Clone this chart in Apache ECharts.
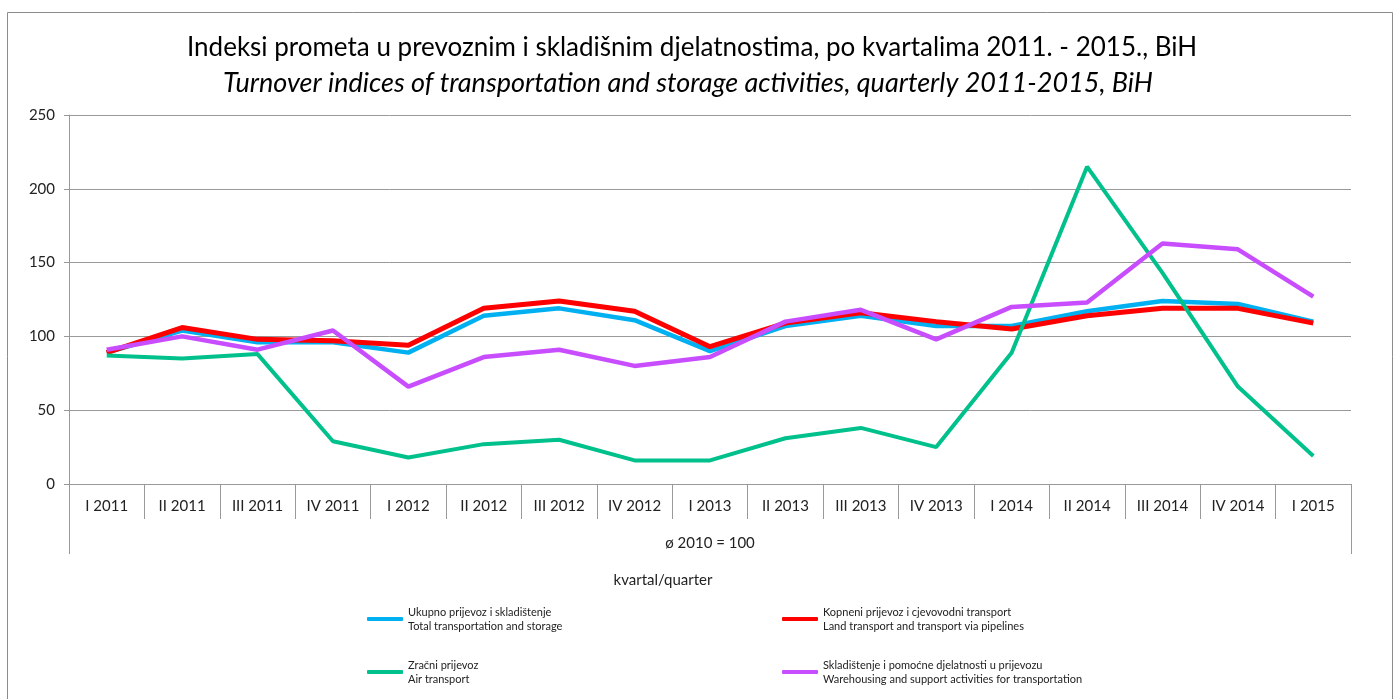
<!DOCTYPE html>
<html>
<head>
<meta charset="utf-8">
<script src="https://cdn.jsdelivr.net/npm/echarts@6/dist/echarts.min.js"></script>
<style>
  html, body { margin: 0; padding: 0; background: #fff; }
  #chart { width: 1400px; height: 699px; }
</style>
</head>
<body>
<div id="chart"></div>
<script>
var quarters = ["I 2011", "II 2011", "III 2011", "IV 2011", "I 2012", "II 2012", "III 2012", "IV 2012",
  "I 2013", "II 2013", "III 2013", "IV 2013", "I 2014", "II 2014", "III 2014", "IV 2014", "I 2015"];

// indeksi, ø 2010 = 100
var ukupno = [89, 104, 96, 96, 89, 114, 119, 111, 90, 107, 114, 107, 107, 117, 124, 122, 110];
var kopneni = [89, 106, 98, 97, 94, 119, 124, 117, 93, 109, 116, 110, 105, 114, 119, 119, 109];
var zracni = [87, 85, 88, 29, 18, 27, 30, 16, 16, 31, 38, 25, 89, 215, 143, 66, 19];
var skladistenje = [91, 100, 91, 104, 66, 86, 91, 80, 86, 110, 118, 98, 120, 123, 163, 159, 127];

var names = {
  "Ukupno prijevoz i skladištenje": "Total transportation and storage",
  "Kopneni prijevoz i cjevovodni transport": "Land transport and transport via pipelines",
  "Zračni prijevoz": "Air transport",
  "Skladištenje i pomoćne djelatnosti u prijevozu": "Warehousing and support activities for transportation"
};

var font = "Lato";
var myChart = echarts.init(document.getElementById("chart"));

function legendAt(name, left, top) {
  return {
    data: [name],
    left: left,
    top: top,
    orient: "horizontal",
    icon: "roundRect",
    itemWidth: 36,
    itemHeight: 4,
    selectedMode: false,
    formatter: function (n) { return n + "\n" + names[n]; },
    textStyle: { fontFamily: font, fontSize: 11, color: "#222", lineHeight: 14, padding: [14, 0, 0, 0] }
  };
}

function line(name, data, color, width) {
  return {
    name: name,
    type: "line",
    data: data,
    symbol: "none",
    lineStyle: { color: color, width: width },
    itemStyle: { color: color },
    xAxisIndex: 0
  };
}

var option = {
  animation: false,
  backgroundColor: "#fff",
  title: [
    {
      text: "Indeksi prometa u prevoznim i skladišnim djelatnostima, po kvartalima 2011. - 2015., BiH",
      left: 182,
      top: 30,
      textStyle: { fontFamily: font, fontSize: 26, fontWeight: "normal", color: "#000" }
    },
    {
      text: "Turnover indices of transportation and storage activities, quarterly 2011-2015, BiH",
      left: 218,
      top: 65,
      textStyle: { fontFamily: font, fontSize: 27, fontWeight: "normal", fontStyle: "italic", color: "#000" }
    }
  ],
  graphic: [
    {
      type: "rect",
      shape: { x: 7.5, y: 12.5, width: 1385, height: 720 },
      style: { fill: "none", stroke: "#8c8c8c", lineWidth: 1 },
      silent: true
    },
    {
      type: "text",
      x: 663,
      y: 580,
      style: { text: "kvartal/quarter", fontFamily: font, fontSize: 15, fill: "#222", align: "center", verticalAlign: "middle" },
      silent: true
    }
  ],
  legend: [
    legendAt("Ukupno prijevoz i skladištenje", 362, 593),
    legendAt("Kopneni prijevoz i cjevovodni transport", 777, 593),
    legendAt("Zračni prijevoz", 362, 646),
    legendAt("Skladištenje i pomoćne djelatnosti u prijevozu", 777, 646)
  ],
  grid: { left: 69, right: 49, top: 115, bottom: 215 },
  xAxis: [
    {
      type: "category",
      data: quarters,
      boundaryGap: true,
      axisLine: { show: true, lineStyle: { color: "#999", width: 1 } },
      axisTick: { show: true, length: 35, lineStyle: { color: "#999" } },
      axisLabel: { fontFamily: font, fontSize: 15, color: "#222", margin: 15, interval: 0 }
    },
    {
      type: "category",
      position: "bottom",
      data: ["ø 2010 = 100"],
      boundaryGap: true,
      axisLine: { show: false },
      axisTick: { show: true, length: 70, lineStyle: { color: "#999" } },
      axisLabel: { fontFamily: font, fontSize: 15, color: "#222", margin: 52 }
    }
  ],
  yAxis: {
    type: "value",
    min: 0,
    max: 250,
    interval: 50,
    axisLine: { show: true, lineStyle: { color: "#999" } },
    axisTick: { show: true, length: 5, lineStyle: { color: "#999" } },
    axisLabel: { fontFamily: font, fontSize: 15, color: "#222", margin: 14 },
    splitLine: { lineStyle: { color: "#999", width: 1 } }
  },
  series: [
    line("Ukupno prijevoz i skladištenje", ukupno, "#00B0F0", 4.5),
    line("Kopneni prijevoz i cjevovodni transport", kopneni, "#FF0000", 5),
    line("Zračni prijevoz", zracni, "#00C08C", 4),
    line("Skladištenje i pomoćne djelatnosti u prijevozu", skladistenje, "#C84DFF", 4.5)
  ]
};

myChart.setOption(option);
</script>
</body>
</html>
